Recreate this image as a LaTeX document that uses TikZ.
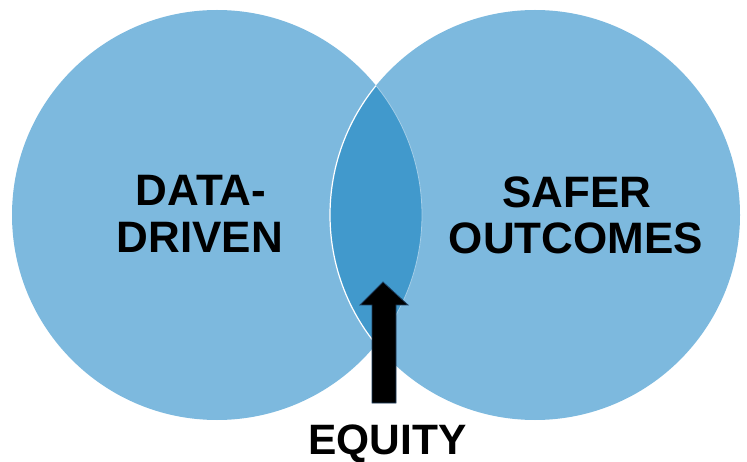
\documentclass[tikz,border=0pt]{standalone}
\usepackage{fontspec}
\setmainfont{Liberation Sans}
\definecolor{circ}{HTML}{7DB9DE}
\definecolor{lens}{HTML}{4199CC}
\definecolor{arrowedge}{HTML}{1F3F60}
\begin{document}
\begin{tikzpicture}[x=1bp,y=-1bp,
  lbl/.style={anchor=base,inner sep=0pt,font=\fontsize{44bp}{48bp}\selectfont\bfseries},
  eq/.style={anchor=base,inner sep=0pt,font=\fontsize{42.5bp}{44bp}\selectfont\bfseries}]
\useasboundingbox (0,0) rectangle (747,462);
\coordinate (L) at (217,215);
\coordinate (R) at (535,215);
\fill[circ] (L) circle[radius=205];
\fill[circ] (R) circle[radius=205];
\begin{scope}
  \clip (L) circle[radius=205];
  \fill[lens] (R) circle[radius=205];
  \draw[white,line width=1.2bp] (R) circle[radius=205];
\end{scope}
\begin{scope}
  \clip (R) circle[radius=205];
  \draw[circ!70!white,line width=0.8bp] (L) circle[radius=205];
\end{scope}
\node[lbl] (d1) at (201,206) {DATA-};
\node[lbl] (d2) at (200,253) {DRIVEN};
\node[lbl] (s1) at (577,208) {SAFER};
\node[lbl] (s2) at (576,254) {OUTCOMES};
\node[eq] (eqt) at (387.5,454) {EQUITY};
\draw[fill=black,draw=arrowedge,line width=0.8bp,line join=miter]
  (383,282) -- (408,305) -- (396,305) -- (396,403) -- (372,403) -- (372,305) -- (360,305) -- cycle;
\end{tikzpicture}
\end{document}
